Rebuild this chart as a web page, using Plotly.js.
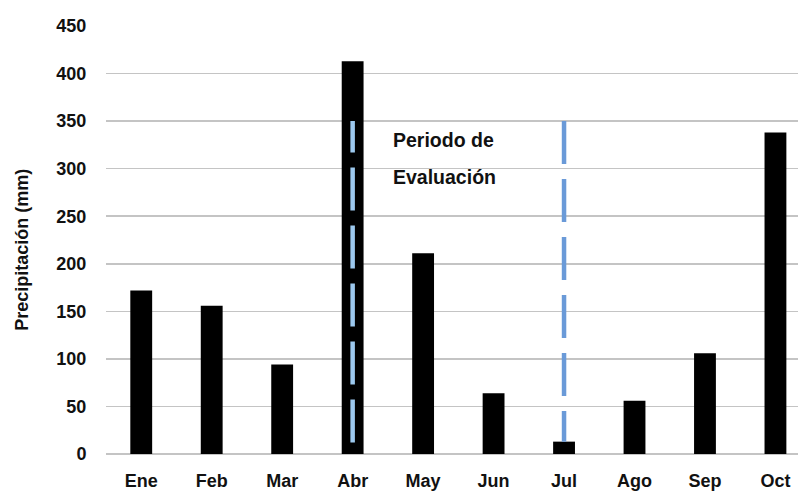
<!DOCTYPE html>
<html>
<head>
<meta charset="utf-8">
<script src="https://cdn.plot.ly/plotly-3.0.1.min.js"></script>
<style>html,body{margin:0;padding:0;background:#fff;}#chart{width:798px;height:491px;}</style>
</head>
<body>
<div id="chart"></div>
<script>
const months = ['Ene','Feb','Mar','Abr','May','Jun','Jul','Ago','Sep','Oct'];
const precipitation = [172, 156, 94, 413, 211, 64, 13, 56, 106, 338];
const periodMonths = ['Abr','Jul'];
const periodRange = [12, 350];
const periodColors = ['#9CC8EE','#6A9AD8'];
const periodLabel = ['Periodo de','Evaluación'];
const yTicks = [0,50,100,150,200,250,300,350,400,450];

const font = {family: 'Liberation Sans, Arial, sans-serif', size: 18, color: '#111111', weight: 'bold'};
const noteFont = {family: 'Liberation Sans, Arial, sans-serif', size: 19.5, color: '#111111', weight: 'bold'};

const traces = [{
  type: 'bar',
  x: months,
  y: precipitation,
  width: 0.31,
  marker: {color: '#000000', line: {width: 0}},
  hoverinfo: 'x+y'
}];
periodMonths.forEach((m, i) => {
  const ys = i === 0 ? [periodRange[0], periodRange[1]] : [periodRange[1], periodRange[0] + 1];
  traces.push({
    type: 'scatter', mode: 'lines',
    x: [m, m], y: ys,
    line: {color: periodColors[i], width: 4.5, dash: '43px,15px'},
    hoverinfo: 'skip'
  });
});

const layout = {
  width: 798, height: 491,
  margin: {l: 106, r: 0, t: 26, b: 36.5},
  paper_bgcolor: '#ffffff', plot_bgcolor: '#ffffff',
  showlegend: false,
  font: font,
  xaxis: {
    type: 'category',
    range: [-0.5, 9.32],
    showgrid: false, zeroline: false, showline: false,
    ticks: 'outside', ticklen: 10, tickcolor: 'rgba(0,0,0,0)',
    tickfont: font
  },
  yaxis: {
    range: [0, 450],
    tickvals: yTicks,
    showgrid: true, gridcolor: '#c4c4c4', gridwidth: 1.6,
    zeroline: true, zerolinecolor: '#c4c4c4', zerolinewidth: 1.6,
    showline: false,
    ticks: 'outside', ticklen: 15, tickcolor: 'rgba(0,0,0,0)',
    tickfont: font
  },
  annotations: [
    {xref: 'paper', yref: 'paper', x: -106/692 + 22/692, y: (454.5-250)/428.5,
     text: 'Precipitación (mm)', textangle: -90, showarrow: false,
     xanchor: 'center', yanchor: 'middle', font: font},
    {xref: 'x', yref: 'y', x: 3.55, y: (454.5-140)/0.9522,
     text: periodLabel[0], showarrow: false, xanchor: 'left', yanchor: 'middle', font: noteFont},
    {xref: 'x', yref: 'y', x: 3.55, y: (454.5-177)/0.9522,
     text: periodLabel[1], showarrow: false, xanchor: 'left', yanchor: 'middle', font: noteFont}
  ]
};

Plotly.newPlot('chart', traces, layout, {displayModeBar: false, staticPlot: true});
</script>
</body>
</html>
